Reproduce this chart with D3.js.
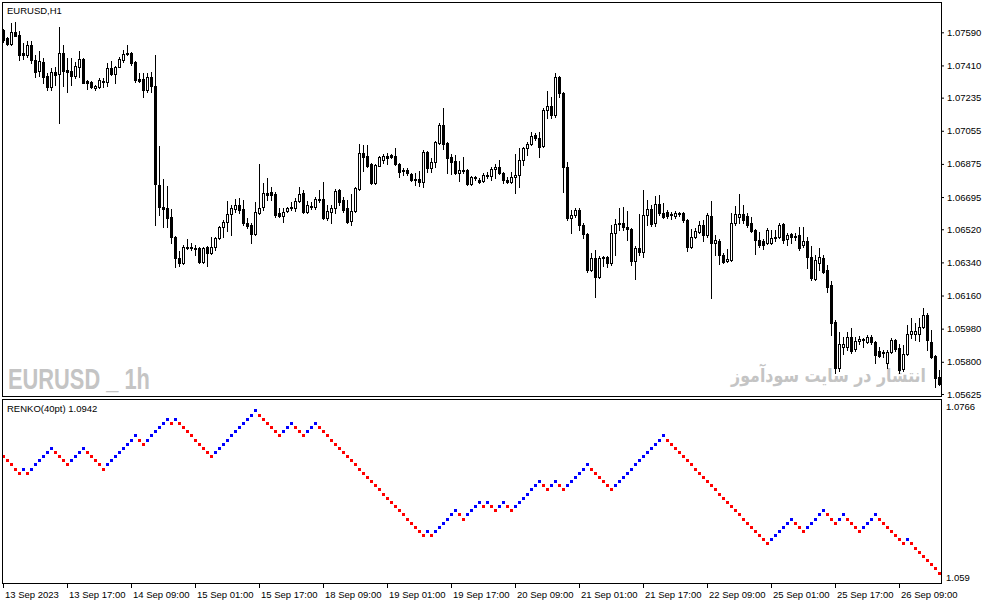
<!DOCTYPE html>
<html><head><meta charset="utf-8">
<script src="https://cdn.jsdelivr.net/npm/d3@7"></script>
<style>
html,body{margin:0;padding:0;background:#fff;overflow:hidden;}
svg{display:block;}
</style></head><body>
<svg id="c" width="987" height="605"></svg>
<script>
// ---------------- DATA ----------------
const symbolLabel = "EURUSD,H1";
const renkoLabel = "RENKO(40pt) 1.0942";
const watermarkLatin = "EURUSD _ 1h";
const watermarkPersian = "انتشار در سایت سودآموز";

const priceTicks = [1.07590, 1.07410, 1.07235, 1.07055, 1.06875, 1.06695, 1.06520, 1.06340, 1.06160, 1.05980, 1.05800, 1.05625];
const renkoTicks = [1.0766, 1.059];
const renkoTickLabels = ["1.0766", "1.059"];
const timeTickBars = [0, 16, 32, 48, 64, 80, 96, 112, 128, 144, 160, 176, 192, 208, 224];
const timeTickLabels = ["13 Sep 2023", "13 Sep 17:00", "14 Sep 09:00", "15 Sep 01:00", "15 Sep 17:00", "18 Sep 09:00", "19 Sep 01:00", "19 Sep 17:00", "20 Sep 09:00", "21 Sep 01:00", "21 Sep 17:00", "22 Sep 09:00", "25 Sep 01:00", "25 Sep 17:00", "26 Sep 09:00"];

const candleOpen = [
1.07603,1.07560,1.07527,1.07592,1.07576,1.07478,1.07467,1.07522,1.07440,1.07380,
1.07429,1.07353,1.07294,1.07375,1.07364,1.07478,1.07386,1.07380,1.07353,1.07402,
1.07446,1.07326,1.07321,1.07288,1.07294,1.07321,1.07321,1.07397,1.07364,1.07402,
1.07440,1.07478,1.07478,1.07429,1.07337,1.07337,1.07277,1.07348,1.07299,1.06761,
1.06642,1.06637,1.06587,1.06479,1.06365,1.06338,1.06425,1.06420,1.06420,1.06420,
1.06344,1.06425,1.06392,1.06425,1.06474,1.06533,1.06560,1.06604,1.06631,1.06653,
1.06631,1.06555,1.06544,1.06495,1.06609,1.06642,1.06718,1.06723,1.06712,1.06609,
1.06593,1.06620,1.06637,1.06637,1.06675,1.06718,1.06615,1.06648,1.06642,1.06685,
1.06685,1.06582,1.06615,1.06637,1.06734,1.06680,1.06637,1.06566,1.06620,1.06740,
1.06935,1.06919,1.06876,1.06772,1.06865,1.06897,1.06919,1.06924,1.06919,1.06876,
1.06837,1.06843,1.06821,1.06789,1.06794,1.06778,1.06940,1.06854,1.06886,1.06990,
1.07087,1.06990,1.06913,1.06892,1.06827,1.06843,1.06843,1.06767,1.06805,1.06789,
1.06783,1.06816,1.06810,1.06848,1.06859,1.06827,1.06789,1.06778,1.06805,1.06816,
1.06897,1.06962,1.06984,1.07033,1.07017,1.06973,1.07169,1.07191,1.07142,1.07348,
1.07261,1.06859,1.06582,1.06598,1.06626,1.06544,1.06495,1.06300,1.06365,1.06262,
1.06365,1.06371,1.06338,1.06501,1.06549,1.06555,1.06533,1.06522,1.06349,1.06420,
1.06398,1.06598,1.06631,1.06555,1.06658,1.06609,1.06615,1.06604,1.06593,1.06609,
1.06609,1.06571,1.06425,1.06479,1.06506,1.06544,1.06490,1.06593,1.06446,1.06457,
1.06381,1.06349,1.06354,1.06555,1.06587,1.06604,1.06593,1.06555,1.06517,1.06463,
1.06457,1.06446,1.06446,1.06474,1.06479,1.06549,1.06468,1.06495,1.06479,1.06490,
1.06436,1.06457,1.06371,1.06251,1.06338,1.06365,1.06300,1.06219,1.06018,1.05768,
1.05881,1.05881,1.05936,1.05871,1.05914,1.05925,1.05909,1.05936,1.05909,1.05860,
1.05849,1.05795,1.05855,1.05920,1.05876,1.05762,1.05844,1.05952,1.05952,1.05952,
1.05990,1.06055,1.05909,1.05833,1.05719];
const candleHigh = [
1.07609,1.07565,1.07641,1.07647,1.07598,1.07533,1.07543,1.07543,1.07467,1.07489,
1.07451,1.07370,1.07397,1.07402,1.07619,1.07522,1.07451,1.07451,1.07429,1.07489,
1.07451,1.07332,1.07324,1.07304,1.07342,1.07342,1.07424,1.07435,1.07405,1.07456,
1.07495,1.07522,1.07484,1.07432,1.07370,1.07370,1.07370,1.07375,1.07467,1.06973,
1.06794,1.06756,1.06631,1.06482,1.06403,1.06436,1.06468,1.06446,1.06436,1.06425,
1.06425,1.06430,1.06479,1.06479,1.06536,1.06571,1.06675,1.06653,1.06685,1.06691,
1.06680,1.06582,1.06555,1.06669,1.06876,1.06772,1.06799,1.06750,1.06723,1.06637,
1.06637,1.06642,1.06669,1.06691,1.06750,1.06734,1.06675,1.06669,1.06696,1.06734,
1.06778,1.06653,1.06653,1.06740,1.06740,1.06696,1.06680,1.06712,1.06750,1.06984,
1.06978,1.06978,1.06881,1.06876,1.06916,1.06930,1.06935,1.06930,1.06962,1.06881,
1.06854,1.06854,1.06827,1.06827,1.06837,1.06951,1.06946,1.06908,1.07001,1.07098,
1.07180,1.06995,1.06930,1.06924,1.06892,1.06913,1.06848,1.06810,1.06810,1.06799,
1.06827,1.06832,1.06859,1.06876,1.06897,1.06832,1.06805,1.06832,1.06930,1.06962,
1.06968,1.06995,1.07049,1.07044,1.07049,1.07180,1.07272,1.07239,1.07370,1.07353,
1.07266,1.06886,1.06626,1.06637,1.06637,1.06555,1.06501,1.06392,1.06409,1.06376,
1.06376,1.06376,1.06544,1.06577,1.06637,1.06642,1.06620,1.06525,1.06430,1.06604,
1.06734,1.06680,1.06653,1.06702,1.06707,1.06664,1.06626,1.06615,1.06620,1.06615,
1.06615,1.06577,1.06522,1.06528,1.06566,1.06571,1.06609,1.06675,1.06490,1.06468,
1.06392,1.06414,1.06609,1.06648,1.06712,1.06653,1.06609,1.06587,1.06522,1.06506,
1.06468,1.06528,1.06517,1.06517,1.06555,1.06555,1.06501,1.06501,1.06501,1.06533,
1.06533,1.06479,1.06430,1.06381,1.06420,1.06381,1.06327,1.06240,1.06028,1.05963,
1.05936,1.05963,1.05985,1.05936,1.05941,1.05930,1.05947,1.05947,1.05914,1.05881,
1.05866,1.05866,1.05930,1.05925,1.05898,1.05893,1.06001,1.06039,1.06012,1.06039,
1.06093,1.06066,1.05974,1.05838,1.05757];
const candleLow = [
1.07538,1.07522,1.07522,1.07568,1.07440,1.07446,1.07456,1.07424,1.07348,1.07353,
1.07315,1.07277,1.07277,1.07304,1.07098,1.07299,1.07266,1.07304,1.07342,1.07348,
1.07312,1.07283,1.07288,1.07277,1.07288,1.07294,1.07299,1.07359,1.07315,1.07399,
1.07429,1.07467,1.07413,1.07321,1.07321,1.07239,1.07266,1.07266,1.06544,1.06599,
1.06533,1.06533,1.06446,1.06316,1.06322,1.06333,1.06414,1.06409,1.06381,1.06338,
1.06338,1.06322,1.06387,1.06409,1.06468,1.06479,1.06512,1.06490,1.06615,1.06609,
1.06544,1.06528,1.06446,1.06490,1.06604,1.06626,1.06680,1.06680,1.06587,1.06587,
1.06560,1.06615,1.06626,1.06620,1.06669,1.06609,1.06609,1.06631,1.06631,1.06669,
1.06576,1.06571,1.06555,1.06609,1.06653,1.06615,1.06555,1.06544,1.06615,1.06734,
1.06837,1.06859,1.06767,1.06767,1.06862,1.06881,1.06876,1.06905,1.06870,1.06805,
1.06816,1.06816,1.06783,1.06761,1.06756,1.06750,1.06832,1.06832,1.06859,1.06984,
1.06957,1.06827,1.06821,1.06821,1.06783,1.06827,1.06761,1.06761,1.06789,1.06772,
1.06778,1.06799,1.06789,1.06799,1.06821,1.06772,1.06772,1.06772,1.06718,1.06750,
1.06870,1.06924,1.06978,1.07006,1.06913,1.06968,1.07125,1.07125,1.07131,1.07239,
1.06723,1.06571,1.06500,1.06587,1.06517,1.06474,1.06289,1.06295,1.06154,1.06257,
1.06322,1.06316,1.06327,1.06381,1.06517,1.06517,1.06463,1.06327,1.06251,1.06381,
1.06371,1.06544,1.06539,1.06539,1.06598,1.06582,1.06582,1.06576,1.06582,1.06593,
1.06560,1.06403,1.06420,1.06474,1.06501,1.06457,1.06479,1.06148,1.06381,1.06333,
1.06338,1.06344,1.06349,1.06544,1.06555,1.06555,1.06533,1.06506,1.06387,1.06425,
1.06414,1.06441,1.06441,1.06457,1.06474,1.06446,1.06436,1.06446,1.06463,1.06409,
1.06425,1.06311,1.06246,1.06246,1.06300,1.06284,1.06181,1.05947,1.05741,1.05752,
1.05844,1.05866,1.05849,1.05860,1.05898,1.05881,1.05903,1.05898,1.05795,1.05827,
1.05827,1.05768,1.05849,1.05860,1.05741,1.05752,1.05838,1.05930,1.05920,1.05914,
1.05985,1.05866,1.05822,1.05665,1.05676];
const candleClose = [
1.07549,1.07527,1.07592,1.07571,1.07467,1.07467,1.07522,1.07440,1.07375,1.07435,
1.07348,1.07294,1.07375,1.07359,1.07478,1.07380,1.07375,1.07353,1.07408,1.07446,
1.07315,1.07315,1.07294,1.07299,1.07332,1.07326,1.07397,1.07364,1.07402,1.07446,
1.07473,1.07473,1.07424,1.07332,1.07326,1.07277,1.07348,1.07299,1.06767,1.06642,
1.06631,1.06582,1.06479,1.06365,1.06338,1.06425,1.06420,1.06425,1.06414,1.06344,
1.06420,1.06392,1.06425,1.06474,1.06533,1.06560,1.06604,1.06637,1.06653,1.06626,
1.06555,1.06539,1.06495,1.06615,1.06637,1.06718,1.06707,1.06707,1.06598,1.06593,
1.06615,1.06637,1.06642,1.06675,1.06712,1.06615,1.06653,1.06642,1.06685,1.06680,
1.06582,1.06620,1.06637,1.06729,1.06669,1.06626,1.06560,1.06620,1.06745,1.06935,
1.06913,1.06865,1.06772,1.06870,1.06913,1.06919,1.06908,1.06913,1.06876,1.06832,
1.06843,1.06827,1.06789,1.06794,1.06778,1.06940,1.06854,1.06886,1.06995,1.07087,
1.06984,1.06908,1.06886,1.06827,1.06843,1.06837,1.06767,1.06805,1.06799,1.06778,
1.06816,1.06810,1.06848,1.06859,1.06827,1.06789,1.06778,1.06805,1.06816,1.06897,
1.06962,1.06984,1.07028,1.07017,1.06968,1.07169,1.07191,1.07142,1.07348,1.07261,
1.06859,1.06582,1.06598,1.06626,1.06544,1.06495,1.06300,1.06365,1.06262,1.06365,
1.06371,1.06338,1.06501,1.06549,1.06555,1.06533,1.06522,1.06349,1.06420,1.06398,
1.06598,1.06631,1.06549,1.06658,1.06609,1.06587,1.06593,1.06598,1.06609,1.06604,
1.06571,1.06425,1.06479,1.06512,1.06544,1.06490,1.06598,1.06446,1.06463,1.06381,
1.06344,1.06360,1.06555,1.06604,1.06604,1.06571,1.06544,1.06512,1.06463,1.06436,
1.06436,1.06517,1.06474,1.06479,1.06544,1.06463,1.06490,1.06479,1.06484,1.06420,
1.06457,1.06371,1.06257,1.06354,1.06371,1.06289,1.06208,1.06012,1.05768,1.05898,
1.05898,1.05936,1.05860,1.05914,1.05925,1.05919,1.05936,1.05909,1.05838,1.05833,
1.05855,1.05855,1.05920,1.05871,1.05757,1.05844,1.05952,1.05968,1.05968,1.05990,
1.06055,1.05920,1.05828,1.05714,1.05681];

// Renko brick closes (40 pt bricks), one per bar; colour comes from direction
const renkoPrev = 1.0716;
const renkoValues = [
1.0712,1.0708,1.0704,1.0700,1.0696, 1.0700,1.0696,
1.0700,1.0704,1.0708,1.0712,1.0716,1.0720,
1.0716,1.0712,1.0708,1.0704,
1.0708,1.0712,1.0716,1.0720,
1.0716,1.0712,1.0708,1.0704,1.0700,
1.0704,1.0708,1.0712,1.0716,1.0720,1.0724,1.0728,1.0732,
1.0728,1.0724,
1.0728,1.0732,1.0736,1.0740,1.0744,1.0748,
1.0744,1.0748,
1.0744,1.0740,1.0736,1.0732,1.0728,1.0724,1.0720,1.0716,1.0712,
1.0716,1.0720,1.0724,1.0728,1.0732,1.0736,1.0740,1.0744,1.0748,1.0752,1.0756,
1.0752,1.0748,1.0744,1.0740,1.0736,1.0732,
1.0736,1.0740,1.0744,
1.0740,1.0736,1.0732,
1.0736,1.0740,1.0744,
1.0740,1.0736,1.0732,1.0728,1.0724,1.0720,1.0716,1.0712,1.0708,1.0704,1.0700,1.0696,1.0692,1.0688,1.0684,1.0680,1.0676,1.0672,1.0668,1.0664,1.0660,1.0656,1.0652,1.0648,1.0644,1.0640,1.0636,
1.0640,1.0636,
1.0640,1.0644,1.0648,1.0652,1.0656,1.0660,
1.0656,1.0652,
1.0656,1.0660,1.0664,1.0668,
1.0664,1.0668,
1.0664,1.0660,
1.0664,1.0668,
1.0664,1.0660,
1.0664,1.0668,1.0672,1.0676,1.0680,1.0684,1.0688,
1.0684,1.0680,
1.0684,1.0688,
1.0684,1.0680,
1.0684,1.0688,1.0692,1.0696,1.0700,1.0704,
1.0700,1.0696,1.0692,1.0688,1.0684,1.0680,
1.0684,1.0688,1.0692,1.0696,1.0700,1.0704,1.0708,1.0712,1.0716,1.0720,1.0724,1.0728,1.0732,
1.0728,1.0724,1.0720,1.0716,1.0712,1.0708,1.0704,1.0700,1.0696,1.0692,1.0688,1.0684,1.0680,1.0676,1.0672,1.0668,1.0664,1.0660,1.0656,1.0652,1.0648,1.0644,1.0640,1.0636,1.0632,1.0628,
1.0632,1.0636,1.0640,1.0644,1.0648,1.0652,
1.0648,1.0644,1.0640,
1.0644,1.0648,1.0652,1.0656,1.0660,
1.0656,1.0652,1.0648,
1.0652,1.0656,
1.0652,1.0648,1.0644,1.0640,
1.0644,1.0648,1.0652,1.0656,
1.0652,1.0648,1.0644,1.0640,1.0636,1.0632,1.0628,
1.0632,
1.0628,1.0624,1.0620,1.0616,1.0612,1.0608,1.0604,1.0600];

// ---------------- CHART ----------------
const FONT = "'Liberation Sans', Arial, sans-serif";
const svg = d3.select("#c");
svg.append("rect").attr("width", 987).attr("height", 605).attr("fill", "#ffffff");

const N = candleOpen.length;
const x = d3.scaleLinear().domain([0, N - 1]).range([3, 3 + 4 * (N - 1)]);
const yMain = d3.scaleLinear().domain([1.05625, 1.07590]).range([394, 32.3]);
const yRenko = d3.scaleLinear().domain([1.059, 1.0766]).range([583, 400]);

const defs = svg.append("defs");
defs.append("clipPath").attr("id", "clipMain").append("rect")
  .attr("x", 3).attr("y", 3).attr("width", 938).attr("height", 393);
defs.append("clipPath").attr("id", "clipRenko").append("rect")
  .attr("x", 3).attr("y", 400).attr("width", 938).attr("height", 183);

const gMain = svg.append("g").attr("clip-path", "url(#clipMain)");

// watermarks (behind candles), fitted to their width by a horizontal scale
function fittedText(parent, str, ax, ay, anchor, width, family, size) {
  const g = parent.append("g");
  const t = g.append("text")
    .attr("x", 0).attr("y", 0)
    .attr("text-anchor", anchor)
    .attr("font-family", family)
    .attr("font-weight", "bold").attr("font-size", size)
    .attr("fill", "#c4c4c4")
    .text(str);
  const w = t.node().getComputedTextLength() || width;
  g.attr("transform", `translate(${ax},${ay}) scale(${width / w},1)`);
  return g;
}
fittedText(gMain, watermarkLatin, 8, 389, "start", 142, "'Liberation Sans Narrow','Liberation Sans',Arial,sans-serif", 30);
fittedText(gMain, watermarkPersian, 926, 382, "end", 195, "'DejaVu Sans', sans-serif", 19);

// candles
const bars = d3.range(N).map(i => ({ i, o: candleOpen[i], h: candleHigh[i], l: candleLow[i], c: candleClose[i] }));
const gc = gMain.append("g").attr("shape-rendering", "crispEdges");
const bar = gc.selectAll("g").data(bars).join("g");
const px = d => Math.round(x(d.i));
const pyo = d => Math.round(yMain(d.o));
const pyc = d => Math.round(yMain(d.c));
bar.append("rect")
  .attr("x", px)
  .attr("y", d => Math.round(yMain(d.h)))
  .attr("width", 1)
  .attr("height", d => Math.round(yMain(d.l)) - Math.round(yMain(d.h)) + 1)
  .attr("fill", "#000");
bar.append("rect")
  .attr("x", d => px(d) - 1)
  .attr("y", d => Math.min(pyo(d), pyc(d)))
  .attr("width", 3)
  .attr("height", d => Math.abs(pyo(d) - pyc(d)) + 1)
  .attr("fill", "#000");
bar.filter(d => d.c > d.o && Math.abs(pyo(d) - pyc(d)) >= 2).append("rect")
  .attr("x", px)
  .attr("y", d => Math.min(pyo(d), pyc(d)) + 1)
  .attr("width", 1)
  .attr("height", d => Math.abs(pyo(d) - pyc(d)) - 1)
  .attr("fill", "#fff");

// renko bricks
const gR = svg.append("g").attr("clip-path", "url(#clipRenko)").attr("shape-rendering", "crispEdges");
gR.selectAll("rect").data(renkoValues).join("rect")
  .attr("x", (d, i) => Math.round(x(i)) - 1)
  .attr("y", d => Math.round(yRenko(d)) - 1)
  .attr("width", 3).attr("height", 3)
  .attr("fill", (d, i) => d > (i ? renkoValues[i - 1] : renkoPrev) ? "#0000ff" : "#ff0000");

// frames
const frames = svg.append("g").attr("fill", "none").attr("stroke", "#000").attr("stroke-width", 1).attr("shape-rendering", "crispEdges");
frames.append("rect").attr("x", 2.5).attr("y", 2.5).attr("width", 939).attr("height", 394);
frames.append("rect").attr("x", 2.5).attr("y", 399.5).attr("width", 939).attr("height", 184);

// price axis (main)
const axMain = svg.append("g").attr("transform", "translate(941,0)")
  .call(d3.axisRight(yMain).tickValues(priceTicks).tickFormat(d3.format(".5f")).tickSize(3).tickPadding(3));
axMain.select(".domain").remove();
axMain.attr("font-family", FONT).attr("font-size", 9.5);
axMain.selectAll("text").attr("fill", "#000");
axMain.selectAll("line").attr("stroke", "#000");

// renko axis
const axR = svg.append("g").attr("transform", "translate(941,0)")
  .call(d3.axisRight(yRenko).tickValues(renkoTicks).tickFormat((d, i) => renkoTickLabels[i]).tickSize(0).tickPadding(5));
axR.select(".domain").remove();
axR.attr("font-family", FONT).attr("font-size", 9.5);
axR.selectAll("text").attr("fill", "#000")
  .attr("transform", (d, i) => i === 0 ? "translate(0,6)" : "translate(0,-6)");

// time axis
const axT = svg.append("g").attr("transform", "translate(0,584)")
  .call(d3.axisBottom(x).tickValues(timeTickBars).tickFormat((d, i) => timeTickLabels[i]).tickSize(4).tickPadding(3));
axT.select(".domain").remove();
axT.attr("font-family", FONT).attr("font-size", 9.5);
axT.selectAll("line").attr("stroke", "#000");
axT.selectAll("text").attr("fill", "#000").attr("text-anchor", "start").attr("x", 1.5);

// panel titles
svg.append("text").attr("x", 7).attr("y", 14).attr("font-family", FONT).attr("font-size", 9.5).attr("fill", "#000").text(symbolLabel);
svg.append("text").attr("x", 7).attr("y", 412).attr("font-family", FONT).attr("font-size", 9.5).attr("fill", "#000").text(renkoLabel);
</script>
</body></html>
